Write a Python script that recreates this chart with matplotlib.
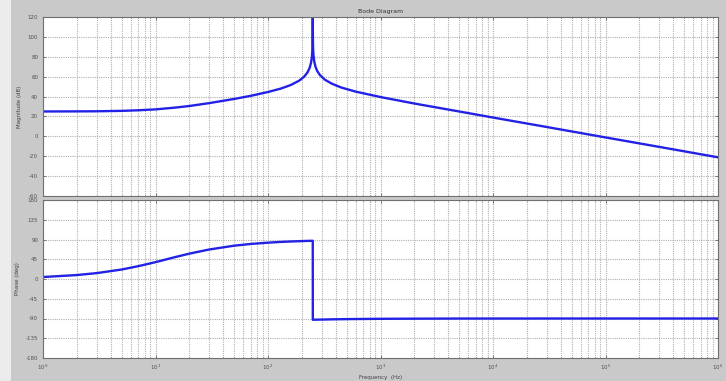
import matplotlib
matplotlib.use("Agg")
import matplotlib.pyplot as plt
import matplotlib.patches as patches
from matplotlib.ticker import LogLocator, NullFormatter, FixedLocator

plt.rcParams['axes.unicode_minus'] = False

# frequencies (Hz)
freq = [1, 2, 3, 5, 7, 10, 15, 20, 30, 50, 70, 100, 130, 160, 190, 210, 225,
        235, 242, 246, 248, 249, 249.8, 250, 250.2, 251, 252, 254, 258, 265,
        275, 290, 320, 370, 450, 600, 1000, 2000, 5000, 1e4, 3e4, 1e5, 3e5, 1e6]

# magnitude (dB)
mag = [25.0, 25.1, 25.2, 25.6, 26.2, 27.1, 28.9, 30.5, 33.4, 37.6, 40.7, 44.6,
       48.0, 51.7, 56.1, 60.1, 64.5, 69.1, 74.7, 80.8, 86.8, 92.9, 110, 140,
       110, 92.9, 86.9, 80.9, 75.0, 69.6, 65.3, 61.5, 57.0, 52.9, 49.0, 45.0,
       39.5, 33.0, 25.0, 18.9, 9.4, -1.1, -10.6, -21.1]

# phase (deg)
phase = [4.5, 9.0, 13.4, 21.6, 29.1, 38.4, 50.0, 57.8, 67.2, 75.9, 79.8, 82.8,
         84.5, 85.5, 86.2, 86.6, 86.8, 86.9, 87.0, 87.1, 87.1, 87.1, 87.1, 87.1,
         -92.9, -92.9, -92.9, -92.9, -92.8, -92.7, -92.6, -92.5, -92.3, -91.9,
         -91.6, -91.2, -90.7, -90.4, -90.1, -90.1, -90.0, -90.0, -90.0, -90.0]

mag_ticks = [-60, -40, -20, 0, 20, 40, 60, 80, 100, 120]
phase_ticks = [-180, -135, -90, -45, 0, 45, 90, 135, 180]
x_ticks = [1, 10, 100, 1000, 10000, 100000, 1000000]
x_labels = ['$10^{%d}$' % i for i in range(7)]

W, H = 726, 381
fig = plt.figure(figsize=(W / 100, H / 100), dpi=100, facecolor='#c9c9c9')
fig.patches.append(patches.Rectangle((0, 0), 11 / W, 1, transform=fig.transFigure,
                                     facecolor='#ececec', edgecolor='none', zorder=0))

ax1 = fig.add_axes([43 / W, 1 - 196 / H, 675 / W, 179 / H])
ax2 = fig.add_axes([43 / W, 1 - 358 / H, 675 / W, 158 / H])


def style(ax, yticks):
    ax.set_xscale('log')
    ax.set_xlim(1, 1e6)
    ax.set_ylim(yticks[0], yticks[-1])
    ax.yaxis.set_major_locator(FixedLocator(yticks))
    ax.xaxis.set_major_locator(FixedLocator(x_ticks))
    ax.xaxis.set_minor_locator(LogLocator(base=10, subs=range(2, 10), numticks=20))
    ax.xaxis.set_minor_formatter(NullFormatter())
    ax.grid(True, which='major', color='#b0b0b0', linestyle=(0, (1, 1)), linewidth=0.8)
    ax.grid(True, which='minor', axis='x', color='#b0b0b0', linestyle=(0, (1, 1)), linewidth=0.8)
    ax.tick_params(which='both', direction='in', labelsize=4, colors='#505050',
                   length=2, width=0.5, top=True, right=True)
    ax.tick_params(which='minor', length=1)
    for s in ax.spines.values():
        s.set_color('#707070')
        s.set_linewidth(0.8)
    ax.set_facecolor('white')


style(ax1, mag_ticks)
ax1.plot(freq, mag, color='#2222e6', linewidth=1.7)
ax1.set_xticklabels([])
ax1.set_ylabel('Magnitude (dB)', fontsize=4, color='#404040', labelpad=4)
ax1.set_title('Bode Diagram', fontsize=4.5, color='#303030', pad=3)

style(ax2, phase_ticks)
ax2.plot(freq, phase, color='#2222e6', linewidth=1.7)
ax2.set_xticklabels(x_labels)
ax2.set_ylabel('Phase (deg)', fontsize=4, color='#404040', labelpad=4)
ax2.set_xlabel('Frequency  (Hz)', fontsize=4, color='#404040', labelpad=2)

fig.savefig('out.png', dpi=100, facecolor=fig.get_facecolor())
